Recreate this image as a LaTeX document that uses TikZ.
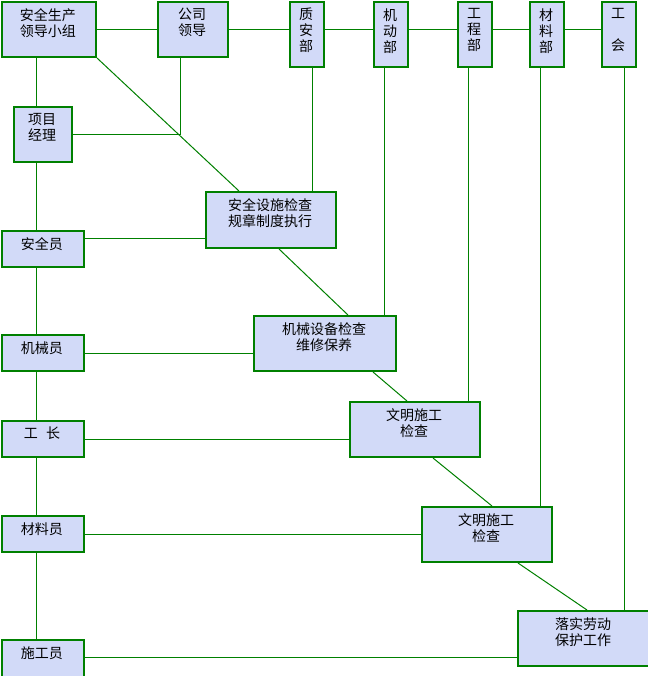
\documentclass[tikz,border=0pt]{standalone}
\usepackage{fontspec}
\newfontfamily\cjk{Noto Sans CJK SC}
\definecolor{lg}{RGB}{0,128,0}
\definecolor{bf}{RGB}{210,218,248}
\newcommand\mkbox[6]{%
  \pgfmathsetmacro\bw{(#4-#2-2)*0.75}%
  \pgfmathsetmacro\bh{(#5-#3-2)*0.75}%
  \node[box, minimum width=\bw pt, minimum height=\bh pt] (#1) at (#2+1,#3+1) {};%
  \node[txt] (#1t) at ({(#2+#4)/2},#3+8) {#6};%
}
\begin{document}
\begin{tikzpicture}[x=0.75pt,y=-0.75pt,
  box/.style={draw=lg, line width=1.5pt, fill=bf, inner sep=0pt, anchor=north west, rectangle},
  txt/.style={font={\fontsize{10.5}{12}\cjk}, align=center, inner sep=0pt, anchor=north, text=black},
  ln/.style={draw=lg, line width=0.75pt},
  dg/.style={draw=lg, line width=0.75pt}]
\useasboundingbox (0,0) rectangle (648,676);
\clip (0,0) rectangle (648,676);
\fill[white] (0,0) rectangle (648,676);

\mkbox{A}{0}{0}{96}{57}{安全生产\\领导小组}
\mkbox{B}{156}{0}{228}{57}{公司\\领导}
\mkbox{C}{288}{0}{324}{67}{质\\安\\部}
\mkbox{D}{372}{0}{408}{67}{机\\动\\部}
\mkbox{E}{456}{0}{492}{67}{工\\程\\部}
\mkbox{F}{528}{0}{564}{67}{材\\料\\部}
\mkbox{G}{600}{0}{636}{67}{工\\\mbox{}\\会}
\mkbox{H}{12}{105}{72}{162}{项目\\经理}
\mkbox{I}{204}{190}{336}{248}{安全设施检查\\规章制度执行}
\mkbox{J}{0}{229}{84}{267}{安全员}
\mkbox{K}{252}{314}{396}{371}{机械设备检查\\维修保养}
\mkbox{L}{0}{333}{84}{371}{机械员}
\mkbox{M}{348}{400}{480}{457}{文明施工\\检查}
\mkbox{N}{0}{419}{84}{457}{工\hspace{0.6em}长}
\mkbox{O}{420}{505}{552}{562}{文明施工\\检查}
\mkbox{P}{0}{514}{84}{552}{材料员}
\mkbox{Q}{516}{609}{650}{666}{落实劳动\\保护工作}
\mkbox{R}{0}{638}{84}{678}{施工员}

% top row
\draw[ln] (A.east) -- (B.west);
\draw[ln] (B.east) -- (B.east -| C.west);
\draw[ln] (B.east -| C.east) -- (B.east -| D.west);
\draw[ln] (B.east -| D.east) -- (B.east -| E.west);
\draw[ln] (B.east -| E.east) -- (B.east -| F.west);
\draw[ln] (B.east -| F.east) -- (B.east -| G.west);

% left column
\coordinate (lc) at (36,0);
\draw[ln] (lc |- A.south) -- (lc |- H.north);
\draw[ln] (lc |- H.south) -- (lc |- J.north);
\draw[ln] (lc |- J.south) -- (lc |- L.north);
\draw[ln] (lc |- L.south) -- (lc |- N.north);
\draw[ln] (lc |- N.south) -- (lc |- P.north);
\draw[ln] (lc |- P.south) -- (lc |- R.north);

% company leader to project manager
\coordinate (bj) at (180,0);
\draw[ln] (H.east) -| (bj |- B.south);

% departments down
\coordinate (xC) at (312,0);
\coordinate (xD) at (384,0);
\coordinate (xE) at (468,0);
\coordinate (xF) at (540,0);
\coordinate (xG) at (624,0);
\draw[ln] (xC |- C.south) -- (xC |- I.north);
\draw[ln] (xD |- D.south) -- (xD |- K.north);
\draw[ln] (xE |- E.south) -- (xE |- M.north);
\draw[ln] (xF |- F.south) -- (xF |- O.north);
\draw[ln] (xG |- G.south) -- (xG |- Q.north);

% staff to tasks
\coordinate (yJ) at (0,238);
\coordinate (yR) at (0,657);
\draw[ln] (J.east |- yJ) -- (I.west |- yJ);
\draw[ln] (L.east) -- (L.east -| K.west);
\draw[ln] (N.east) -- (N.east -| M.west);
\draw[ln] (P.east) -- (P.east -| O.west);
\draw[ln] (R.east |- yR) -- (Q.west |- yR);

% diagonal chain
\coordinate (d1) at (239,0);
\coordinate (d2) at (279,0);
\coordinate (d3) at (348,0);
\coordinate (d4) at (373,0);
\coordinate (d5) at (407,0);
\coordinate (d6) at (433,0);
\coordinate (d7) at (492,0);
\coordinate (d8) at (518,0);
\coordinate (d9) at (587,0);
\draw[dg] (A.south east) -- (d1 |- I.north);
\draw[dg] (d2 |- I.south) -- (d3 |- K.north);
\draw[dg] (d4 |- K.south) -- (d5 |- M.north);
\draw[dg] (d6 |- M.south) -- (d7 |- O.north);
\draw[dg] (d8 |- O.south) -- (d9 |- Q.north);
\end{tikzpicture}
\end{document}
